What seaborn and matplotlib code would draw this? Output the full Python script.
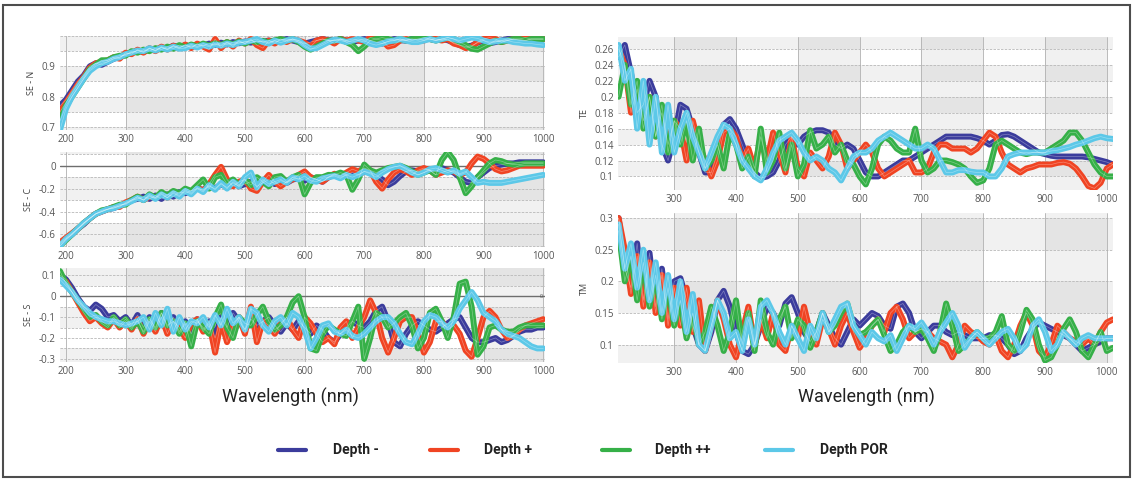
import numpy as np
import pandas as pd
import matplotlib
matplotlib.use("Agg")
import matplotlib.pyplot as plt
from matplotlib.patches import Rectangle
from matplotlib.lines import Line2D
import seaborn as sns

# ---------------------------------------------------------------
# Data (10 nm steps)
# ---------------------------------------------------------------
groups = ["Depth -", "Depth +", "Depth ++", "Depth POR"]
palette = {"Depth -": "#3b3c9c", "Depth +": "#f04423",
           "Depth ++": "#36b048", "Depth POR": "#5cc8e8"}

wl_left = np.arange(190, 1001, 10)    # SE panels
wl_right = np.arange(210, 1011, 10)   # TE / TM panels

sen_blue = [0.77, 0.79, 0.82, 0.85, 0.87, 0.90, 0.91, 0.905, 0.915, 0.925,
            0.93, 0.94, 0.945, 0.952, 0.948, 0.958, 0.953, 0.962, 0.958, 0.968,
            0.962, 0.97, 0.964, 0.972, 0.968, 0.975, 0.97, 0.978, 0.972, 0.98,
            0.976, 0.982, 0.978, 0.984, 0.98, 0.985, 0.98, 0.986, 0.99, 0.985,
            0.98, 0.975, 0.98, 0.985, 0.99, 0.986, 0.985, 0.99, 0.985, 0.98,
            0.985, 0.99, 0.986, 0.98, 0.975, 0.982, 0.99, 0.986, 0.985, 0.99,
            0.986, 0.99, 0.99, 0.986, 0.99, 0.986, 0.978, 0.97, 0.965, 0.968,
            0.978, 0.985, 0.976, 0.98, 0.985, 0.99, 0.99, 0.986, 0.985, 0.99,
            0.99, 0.99]
sen_red = [0.75, 0.78, 0.81, 0.84, 0.865, 0.895, 0.91, 0.915, 0.92, 0.93,
           0.925, 0.945, 0.94, 0.955, 0.945, 0.96, 0.95, 0.965, 0.955, 0.968,
           0.96, 0.972, 0.96, 0.975, 0.965, 0.955, 0.99, 0.96, 0.98, 0.965,
           0.985, 0.975, 0.99, 0.97, 0.96, 0.985, 0.975, 0.99, 0.98, 0.99,
           0.985, 0.978, 0.965, 0.985, 0.99, 0.985, 0.975, 0.99, 0.985, 0.99,
           0.985, 0.98, 0.995, 0.99, 0.985, 0.965, 0.97, 0.985, 0.99, 0.985,
           0.99, 0.985, 0.995, 0.99, 0.985, 0.99, 0.975, 0.97, 0.96, 0.965,
           0.98, 0.99, 0.995, 0.99, 0.98, 0.985, 0.99, 0.99, 0.995, 0.99,
           0.99, 0.99]
sen_green = [0.72, 0.77, 0.80, 0.83, 0.86, 0.89, 0.905, 0.92, 0.92, 0.93,
             0.935, 0.935, 0.95, 0.945, 0.955, 0.95, 0.96, 0.955, 0.965, 0.958,
             0.97, 0.962, 0.972, 0.965, 0.975, 0.968, 0.976, 0.97, 0.98, 0.972,
             0.982, 0.975, 0.985, 0.98, 0.984, 0.978, 0.986, 0.99, 0.985, 0.99,
             0.98, 0.965, 0.955, 0.965, 0.975, 0.985, 0.985, 0.99, 0.98, 0.97,
             0.95, 0.965, 0.985, 0.99, 0.995, 0.99, 0.985, 0.99, 0.985, 0.99,
             0.99, 0.995, 0.99, 0.985, 0.99, 0.995, 0.99, 0.98, 0.97, 0.958,
             0.955, 0.965, 0.975, 0.985, 0.98, 0.985, 0.99, 0.99, 0.985, 0.99,
             0.99, 0.99]
sen_cyan = [0.69, 0.76, 0.80, 0.83, 0.86, 0.885, 0.90, 0.91, 0.915, 0.925,
            0.93, 0.94, 0.945, 0.952, 0.95, 0.96, 0.952, 0.962, 0.955, 0.965,
            0.958, 0.96, 0.968, 0.962, 0.97, 0.965, 0.972, 0.968, 0.975, 0.97,
            0.978, 0.98, 0.985, 0.99, 0.98, 0.975, 0.985, 0.978, 0.985, 0.99,
            0.985, 0.97, 0.958, 0.96, 0.97, 0.98, 0.988, 0.985, 0.98, 0.985,
            0.99, 0.985, 0.975, 0.97, 0.975, 0.982, 0.985, 0.99, 0.985, 0.98,
            0.98, 0.985, 0.99, 0.985, 0.99, 0.995, 0.99, 0.985, 0.99, 0.995,
            0.992, 0.985, 0.98, 0.982, 0.985, 0.985, 0.98, 0.978, 0.975, 0.975,
            0.972, 0.97]

sec_blue = [-0.68, -0.64, -0.60, -0.55, -0.51, -0.46, -0.42, -0.40, -0.38, -0.37,
            -0.35, -0.33, -0.30, -0.29, -0.27, -0.29, -0.26, -0.29, -0.25, -0.27,
            -0.23, -0.24, -0.22, -0.20, -0.21, -0.18, -0.20, -0.16, -0.19, -0.15,
            -0.18, -0.16, -0.14, -0.18, -0.15, -0.12, -0.16, -0.13, -0.15, -0.12,
            -0.11, -0.13, -0.10, -0.12, -0.14, -0.10, -0.08, -0.10, -0.08, -0.06,
            -0.08, -0.05, -0.06, -0.08, -0.12, -0.17, -0.14, -0.09, -0.05, -0.04,
            -0.05, -0.03, -0.04, -0.05, -0.02, -0.04, -0.06, -0.10, -0.14, -0.15,
            -0.10, -0.06, -0.02, 0.0, 0.01, 0.02, 0.02, 0.03, 0.03, 0.03,
            0.03, 0.03]
sec_red = [-0.67, -0.63, -0.59, -0.55, -0.50, -0.46, -0.42, -0.40, -0.38, -0.36,
           -0.36, -0.32, -0.30, -0.27, -0.30, -0.27, -0.28, -0.24, -0.28, -0.23,
           -0.26, -0.21, -0.24, -0.19, -0.22, -0.16, -0.08, -0.01, -0.12, -0.18,
           -0.14, -0.12, -0.20, -0.22, -0.14, -0.08, -0.14, -0.18, -0.14, -0.12,
           -0.08, -0.05, -0.10, -0.12, -0.14, -0.10, -0.07, -0.09, -0.06, -0.03,
           -0.05, -0.02, -0.04, -0.14, -0.20, -0.12, -0.06, -0.03, -0.05, -0.08,
           -0.04, -0.02, -0.04, -0.08, -0.06, -0.04, -0.05, -0.08, -0.06, 0.02,
           0.08, 0.06, 0.02, -0.03, -0.05, -0.04, -0.02, 0.0, 0.0, 0.0,
           0.0, 0.0]
sec_green = [-0.70, -0.65, -0.60, -0.55, -0.50, -0.46, -0.42, -0.39, -0.38, -0.36,
             -0.34, -0.34, -0.30, -0.27, -0.30, -0.25, -0.28, -0.23, -0.26, -0.22,
             -0.24, -0.20, -0.22, -0.17, -0.12, -0.20, -0.10, -0.08, -0.16, -0.12,
             -0.17, -0.12, -0.17, -0.10, -0.14, -0.18, -0.10, -0.09, -0.14, -0.10,
             -0.08, -0.25, -0.15, -0.10, -0.10, -0.08, -0.08, -0.06, -0.08, -0.21,
             -0.12, 0.01, -0.04, -0.06, -0.04, -0.02, -0.01, 0.00, -0.02, -0.05,
             -0.08, -0.06, -0.04, -0.08, 0.05, 0.12, 0.05, -0.10, -0.24, -0.18,
             -0.10, -0.04, 0.02, 0.05, 0.04, 0.02, 0.01, 0.01, 0.02, 0.02,
             0.02, 0.02]
sec_cyan = [-0.70, -0.64, -0.60, -0.55, -0.50, -0.46, -0.42, -0.40, -0.38, -0.37,
            -0.35, -0.33, -0.31, -0.28, -0.30, -0.26, -0.29, -0.25, -0.28, -0.24,
            -0.27, -0.22, -0.25, -0.20, -0.23, -0.17, -0.21, -0.15, -0.20, -0.14,
            -0.18, -0.10, -0.06, -0.19, -0.12, -0.16, -0.14, -0.12, -0.15, -0.10,
            -0.12, -0.09, -0.13, -0.14, -0.11, -0.10, -0.09, -0.11, -0.08, -0.10,
            -0.08, -0.05, -0.07, -0.10, -0.06, -0.03, -0.01, 0.00, -0.03, -0.06,
            -0.08, -0.06, -0.03, -0.02, -0.04, -0.06, -0.04, -0.07, -0.05, -0.10,
            -0.15, -0.14, -0.15, -0.15, -0.15, -0.14, -0.13, -0.12, -0.11, -0.10,
            -0.09, -0.08]

ses_blue = [0.10, 0.08, 0.04, -0.01, -0.05, -0.07, -0.04, -0.06, -0.10, -0.09,
            -0.12, -0.10, -0.14, -0.09, -0.15, -0.10, -0.16, -0.08, -0.15, -0.10,
            -0.17, -0.12, -0.18, -0.11, -0.16, -0.12, -0.20, -0.10, -0.15, -0.08,
            -0.12, -0.16, -0.11, -0.14, -0.12, -0.10, -0.14, -0.17, -0.13, -0.16,
            -0.12, -0.15, -0.18, -0.14, -0.16, -0.20, -0.22, -0.18, -0.15, -0.12,
            -0.14, -0.15, -0.12, -0.07, -0.05, -0.12, -0.22, -0.24, -0.18, -0.14,
            -0.12, -0.14, -0.16, -0.17, -0.15, -0.13, -0.11, -0.10, -0.15, -0.20,
            -0.22, -0.22, -0.21, -0.20, -0.22, -0.21, -0.19, -0.17, -0.16, -0.16,
            -0.15, -0.15]
ses_red = [0.09, 0.07, 0.02, -0.03, -0.08, -0.12, -0.10, -0.13, -0.15, -0.11,
           -0.15, -0.12, -0.16, -0.11, -0.18, -0.12, -0.17, -0.10, -0.18, -0.12,
           -0.15, -0.20, -0.13, -0.11, -0.17, -0.13, -0.27, -0.12, -0.22, -0.14,
           -0.10, -0.18, -0.05, -0.22, -0.12, -0.14, -0.18, -0.13, -0.10, -0.16,
           -0.20, -0.10, -0.13, -0.18, -0.22, -0.20, -0.23, -0.15, -0.12, -0.20,
           -0.15, -0.10, -0.02, -0.08, -0.20, -0.27, -0.20, -0.12, -0.10, -0.10,
           -0.18, -0.27, -0.22, -0.12, -0.12, -0.16, -0.14, -0.18, -0.26, -0.29,
           -0.20, -0.10, -0.07, -0.10, -0.16, -0.20, -0.19, -0.16, -0.14, -0.13,
           -0.12, -0.11]
ses_green = [0.12, 0.06, 0.02, -0.02, -0.06, -0.10, -0.09, -0.12, -0.14, -0.10,
             -0.14, -0.11, -0.15, -0.12, -0.17, -0.11, -0.15, -0.08, -0.14, -0.12,
             -0.18, -0.13, -0.24, -0.12, -0.15, -0.18, -0.10, -0.04, -0.15, -0.20,
             -0.10, -0.13, -0.14, -0.09, -0.05, -0.12, -0.16, -0.14, -0.10, -0.03,
             0.00, -0.10, -0.25, -0.26, -0.18, -0.14, -0.16, -0.18, -0.19, -0.12,
             -0.05, -0.30, -0.20, -0.08, -0.10, -0.15, -0.13, -0.10, -0.08, -0.14,
             -0.25, -0.20, -0.08, -0.06, -0.12, -0.20, -0.10, 0.06, 0.07, -0.05,
             -0.28, -0.24, -0.15, -0.14, -0.16, -0.17, -0.17, -0.15, -0.14, -0.14,
             -0.14, -0.14]
ses_cyan = [0.08, 0.05, 0.02, -0.02, -0.05, -0.08, -0.10, -0.11, -0.12, -0.12,
            -0.13, -0.14, -0.13, -0.12, -0.10, -0.16, -0.08, -0.14, -0.06, -0.17,
            -0.10, -0.16, -0.12, -0.13, -0.10, -0.15, -0.09, -0.14, -0.06, -0.13,
            -0.10, -0.16, -0.06, -0.08, -0.14, -0.17, -0.12, -0.10, -0.14, -0.08,
            -0.10, -0.16, -0.25, -0.20, -0.14, -0.13, -0.17, -0.18, -0.16, -0.19,
            -0.20, -0.18, -0.15, -0.12, -0.10, -0.10, -0.13, -0.18, -0.22, -0.23,
            -0.18, -0.12, -0.09, -0.10, -0.13, -0.15, -0.12, -0.06, -0.02, 0.02,
            -0.02, -0.08, -0.10, -0.12, -0.16, -0.18, -0.19, -0.20, -0.22, -0.24,
            -0.25, -0.25]

te_blue = [0.25, 0.265, 0.23, 0.18, 0.19, 0.22, 0.20, 0.14, 0.12, 0.15,
           0.19, 0.185, 0.16, 0.13, 0.105, 0.105, 0.13, 0.165, 0.172, 0.16,
           0.14, 0.12, 0.105, 0.098, 0.10, 0.105, 0.12, 0.14, 0.15, 0.14,
           0.15, 0.155, 0.158, 0.158, 0.155, 0.14, 0.135, 0.14, 0.135, 0.12,
           0.105, 0.10, 0.10, 0.105, 0.11, 0.115, 0.12, 0.12, 0.125, 0.13,
           0.135, 0.14, 0.145, 0.15, 0.15, 0.15, 0.15, 0.15, 0.148, 0.145,
           0.14, 0.145, 0.152, 0.153, 0.15, 0.145, 0.14, 0.135, 0.13, 0.128,
           0.126, 0.125, 0.125, 0.125, 0.125, 0.125, 0.124, 0.122, 0.12, 0.118,
           0.115]
te_red = [0.26, 0.24, 0.18, 0.21, 0.17, 0.20, 0.15, 0.18, 0.14, 0.17,
          0.16, 0.12, 0.17, 0.14, 0.12, 0.10, 0.12, 0.155, 0.16, 0.15,
          0.12, 0.135, 0.11, 0.15, 0.12, 0.155, 0.13, 0.105, 0.15, 0.11,
          0.10, 0.13, 0.12, 0.11, 0.125, 0.155, 0.14, 0.11, 0.12, 0.13,
          0.14, 0.13, 0.11, 0.10, 0.105, 0.11, 0.115, 0.12, 0.105, 0.105,
          0.11, 0.13, 0.14, 0.14, 0.135, 0.135, 0.135, 0.13, 0.135, 0.145,
          0.155, 0.15, 0.13, 0.115, 0.11, 0.105, 0.11, 0.112, 0.115, 0.115,
          0.115, 0.117, 0.118, 0.116, 0.11, 0.10, 0.088, 0.085, 0.092, 0.11,
          0.115]
te_green = [0.20, 0.24, 0.19, 0.22, 0.16, 0.20, 0.15, 0.19, 0.13, 0.17,
            0.14, 0.17, 0.12, 0.16, 0.11, 0.12, 0.14, 0.11, 0.155, 0.14,
            0.11, 0.125, 0.10, 0.16, 0.105, 0.12, 0.155, 0.11, 0.14, 0.10,
            0.115, 0.158, 0.135, 0.14, 0.15, 0.13, 0.14, 0.12, 0.115, 0.10,
            0.09, 0.11, 0.14, 0.15, 0.145, 0.135, 0.13, 0.13, 0.16, 0.12,
            0.105, 0.11, 0.12, 0.12, 0.118, 0.115, 0.11, 0.10, 0.092, 0.095,
            0.11, 0.14, 0.145, 0.14, 0.135, 0.13, 0.128, 0.13, 0.13, 0.13,
            0.135, 0.14, 0.145, 0.155, 0.155, 0.145, 0.13, 0.115, 0.105, 0.10,
            0.10]
te_cyan = [0.265, 0.22, 0.235, 0.16, 0.22, 0.14, 0.20, 0.13, 0.19, 0.13,
           0.16, 0.18, 0.15, 0.13, 0.11, 0.13, 0.15, 0.165, 0.16, 0.14,
           0.12, 0.11, 0.10, 0.095, 0.11, 0.13, 0.145, 0.15, 0.155, 0.145,
           0.13, 0.12, 0.125, 0.12, 0.11, 0.105, 0.095, 0.11, 0.125, 0.13,
           0.13, 0.135, 0.145, 0.15, 0.155, 0.15, 0.145, 0.14, 0.135, 0.135,
           0.14, 0.135, 0.12, 0.105, 0.105, 0.108, 0.108, 0.106, 0.105, 0.105,
           0.10, 0.10, 0.11, 0.125, 0.128, 0.13, 0.13, 0.13, 0.13, 0.13,
           0.132, 0.133, 0.135, 0.137, 0.14, 0.142, 0.145, 0.148, 0.15, 0.148,
           0.147]

tm_blue = [0.30, 0.22, 0.19, 0.26, 0.17, 0.245, 0.16, 0.22, 0.14, 0.20,
           0.205, 0.17, 0.13, 0.10, 0.09, 0.12, 0.17, 0.185, 0.16, 0.12,
           0.09, 0.085, 0.10, 0.13, 0.16, 0.15, 0.13, 0.165, 0.175, 0.15,
           0.12, 0.105, 0.12, 0.15, 0.13, 0.11, 0.10, 0.12, 0.14, 0.13,
           0.14, 0.15, 0.145, 0.13, 0.125, 0.16, 0.165, 0.15, 0.12, 0.11,
           0.12, 0.13, 0.13, 0.12, 0.115, 0.12, 0.115, 0.11, 0.11, 0.11,
           0.115, 0.115, 0.11, 0.10, 0.085, 0.09, 0.11, 0.125, 0.135, 0.13,
           0.125, 0.12, 0.115, 0.11, 0.10, 0.09, 0.095, 0.10, 0.105, 0.11,
           0.11]
tm_red = [0.30, 0.25, 0.18, 0.24, 0.16, 0.23, 0.15, 0.21, 0.13, 0.19,
          0.13, 0.19, 0.12, 0.17, 0.09, 0.13, 0.17, 0.14, 0.10, 0.08,
          0.12, 0.16, 0.10, 0.14, 0.11, 0.15, 0.10, 0.09, 0.13, 0.11,
          0.16, 0.12, 0.10, 0.14, 0.125, 0.10, 0.13, 0.15, 0.12, 0.095,
          0.11, 0.13, 0.14, 0.12, 0.15, 0.16, 0.14, 0.11, 0.12, 0.125,
          0.12, 0.11, 0.105, 0.10, 0.08, 0.10, 0.13, 0.12, 0.115, 0.105,
          0.10, 0.115, 0.09, 0.08, 0.10, 0.13, 0.15, 0.13, 0.09, 0.08,
          0.10, 0.13, 0.12, 0.11, 0.105, 0.10, 0.11, 0.10, 0.12, 0.135,
          0.14]
tm_green = [0.28, 0.20, 0.24, 0.17, 0.23, 0.16, 0.21, 0.14, 0.19, 0.13,
            0.17, 0.11, 0.15, 0.10, 0.12, 0.16, 0.13, 0.09, 0.12, 0.17,
            0.10, 0.15, 0.09, 0.17, 0.12, 0.10, 0.14, 0.16, 0.11, 0.14,
            0.13, 0.095, 0.12, 0.15, 0.12, 0.13, 0.15, 0.165, 0.13, 0.115,
            0.12, 0.13, 0.14, 0.115, 0.09, 0.10, 0.12, 0.13, 0.12, 0.125,
            0.11, 0.09, 0.12, 0.165, 0.13, 0.09, 0.10, 0.11, 0.12, 0.11,
            0.11, 0.12, 0.145, 0.10, 0.09, 0.12, 0.155, 0.14, 0.10, 0.075,
            0.08, 0.10, 0.125, 0.14, 0.12, 0.09, 0.08, 0.10, 0.12, 0.09,
            0.095]
tm_cyan = [0.29, 0.22, 0.26, 0.19, 0.25, 0.17, 0.23, 0.15, 0.21, 0.14,
           0.20, 0.12, 0.18, 0.10, 0.09, 0.13, 0.17, 0.15, 0.11, 0.12,
           0.09, 0.14, 0.10, 0.16, 0.17, 0.15, 0.12, 0.10, 0.13, 0.11,
           0.09, 0.13, 0.11, 0.15, 0.12, 0.14, 0.16, 0.165, 0.13, 0.115,
           0.10, 0.12, 0.11, 0.105, 0.115, 0.09, 0.11, 0.13, 0.125, 0.135,
           0.12, 0.10, 0.12, 0.135, 0.15, 0.13, 0.095, 0.11, 0.12, 0.11,
           0.10, 0.11, 0.12, 0.125, 0.11, 0.09, 0.10, 0.13, 0.14, 0.12,
           0.09, 0.10, 0.12, 0.11, 0.10, 0.11, 0.115, 0.11, 0.11, 0.11,
           0.11]

x_ticks_left = [200, 300, 400, 500, 600, 700, 800, 900, 1000]
x_ticks_right = [300, 400, 500, 600, 700, 800, 900, 1000]


def long_form(wl, series):
    frames = [pd.DataFrame({"wl": wl, "value": v, "group": g})
              for g, v in zip(groups, series)]
    return pd.concat(frames, ignore_index=True)


# ---------------------------------------------------------------
# Figure
# ---------------------------------------------------------------
sns.set_theme(style="white")
plt.rcParams["font.family"] = ["Open Sans", "DejaVu Sans"]

W, H = 1134, 479
fig = plt.figure(figsize=(W / 100, H / 100), dpi=100)
fig.patch.set_facecolor("white")


def px_axes(x0, y0, x1, y1):
    return fig.add_axes([x0 / W, 1 - y1 / H, (x1 - x0) / W, (y1 - y0) / H])


def checker(ax, xlim, ylim, band, origin, grid):
    col_edges = [xlim[0], 300, 400, 500, 600, 700, 800, 900, 1000, xlim[1]]
    k0 = int(np.floor((ylim[0] - origin) / band))
    k1 = int(np.ceil((ylim[1] - origin) / band))
    for c in range(len(col_edges) - 1):
        xa, xb = col_edges[c], col_edges[c + 1]
        dark_col = xa in (300, 500, 700, 900)
        for k in range(k0, k1):
            ya = origin + k * band
            grey_row = (k % 2 == 0)
            n = int(dark_col) + int(grey_row)
            col = {0: "#ffffff", 1: "#f1f1f1", 2: "#e4e4e4"}[n]
            ax.add_patch(Rectangle((xa, ya), xb - xa, band, facecolor=col,
                                   edgecolor="none", zorder=0))
    g0 = int(np.ceil((ylim[0] - 1e-9) / grid))
    g1 = int(np.floor((ylim[1] + 1e-9) / grid))
    for k in range(g0, g1 + 1):
        ax.axhline(k * grid, color="#b8b8b8", lw=0.6, ls=(0, (3, 1.5)), zorder=1)
    for xv in x_ticks_left:
        if xlim[0] < xv < xlim[1] + 1:
            ax.axvline(xv, color="#b0b0b0", lw=0.6, zorder=1)


panels = [
    # label, data, wl, pixel rect, ylim, yticks, band, origin, grid, zero, xlim, xticks
    ("SE - N", [sen_blue, sen_red, sen_green, sen_cyan], wl_left,
     (60, 36, 545, 130), (0.69, 1.0), [0.7, 0.8, 0.9], 0.05, 0.75, 0.05, False,
     (190, 1003), x_ticks_left),
    ("SE - C", [sec_blue, sec_red, sec_green, sec_cyan], wl_left,
     (60, 152, 545, 247), (-0.71, 0.12), [-0.6, -0.4, -0.2, 0], 0.2, -0.3, 0.1, True,
     (190, 1003), x_ticks_left),
    ("SE - S", [ses_blue, ses_red, ses_green, ses_cyan], wl_left,
     (60, 268, 545, 362), (-0.315, 0.135), [-0.3, -0.2, -0.1, 0, 0.1], 0.1, 0.05, 0.05, True,
     (190, 1003), x_ticks_left),
    ("TE", [te_blue, te_red, te_green, te_cyan], wl_right,
     (618, 37, 1113, 190), (0.083, 0.275),
     [0.1, 0.12, 0.14, 0.16, 0.18, 0.2, 0.22, 0.24, 0.26], 0.02, 0.10, 0.02, False,
     (209, 1010), x_ticks_right),
    ("TM", [tm_blue, tm_red, tm_green, tm_cyan], wl_right,
     (618, 213, 1113, 363), (0.071, 0.308), [0.1, 0.15, 0.2, 0.25, 0.3], 0.05, 0.15, 0.05, False,
     (209, 1010), x_ticks_right),
]

for (label, series, wl, rect, ylim, yticks, band, origin, grid, zero,
     xlim, xticks) in panels:
    ax = px_axes(*rect)
    checker(ax, xlim, ylim, band, origin, grid)
    if zero:
        ax.axhline(0, color="#6e6e6e", lw=1.0, zorder=1.5)
    df = long_form(wl, series)
    # thick coloured band, then a faint thin line inside it (bundle look)
    sns.lineplot(data=df, x="wl", y="value", hue="group", hue_order=groups,
                 palette=palette, linewidth=4.3, legend=False, estimator=None,
                 sort=False, ax=ax, zorder=3)
    sns.lineplot(data=df, x="wl", y="value", units="group", color="white",
                 linewidth=0.5, alpha=0.35, legend=False, estimator=None,
                 sort=False, ax=ax, zorder=3.5)
    ax.set_xlim(*xlim)
    ax.set_ylim(*ylim)
    ax.set_xticks(xticks)
    ax.set_yticks(yticks)
    ax.set_yticklabels([f"{v:g}" for v in yticks])
    ax.set_xlabel("")
    ax.set_ylabel(label, fontsize=6.5, color="#444444", labelpad=4)
    ax.tick_params(length=0, labelsize=7, colors="#555555", pad=3)
    for s in ax.spines.values():
        s.set_visible(False)
    if label == "SE - S":
        ax.text(1000, 0, "0", fontsize=4, color="#555555", ha="right",
                va="center", zorder=4)

fig.text(290 / W, 1 - 397 / H, "Wavelength (nm)", fontsize=13, color="#222222",
         ha="center", va="center", family=["Roboto", "DejaVu Sans"])
fig.text(866 / W, 1 - 397 / H, "Wavelength (nm)", fontsize=13, color="#222222",
         ha="center", va="center", family=["Roboto", "DejaVu Sans"])

# legend
legend_pos = [(278, 333), (430, 484), (602, 655), (765, 820)]
for g, (lx, tx) in zip(groups, legend_pos):
    fig.add_artist(Line2D([lx / W, (lx + 28) / W], [1 - 450 / H, 1 - 450 / H],
                          color=palette[g], lw=3, transform=fig.transFigure))
    fig.text(tx / W, 1 - 450 / H, g, fontsize=10, fontweight="bold",
             color="#222222", ha="left", va="center",
             family=["Roboto", "DejaVu Sans"])

# outer frame
fig.add_artist(Rectangle((3 / W, 2 / H), 1127 / W, 472 / H, transform=fig.transFigure,
                         fill=False, edgecolor="#4d4d4d", lw=1.5))

fig.savefig("out.png", dpi=100)
